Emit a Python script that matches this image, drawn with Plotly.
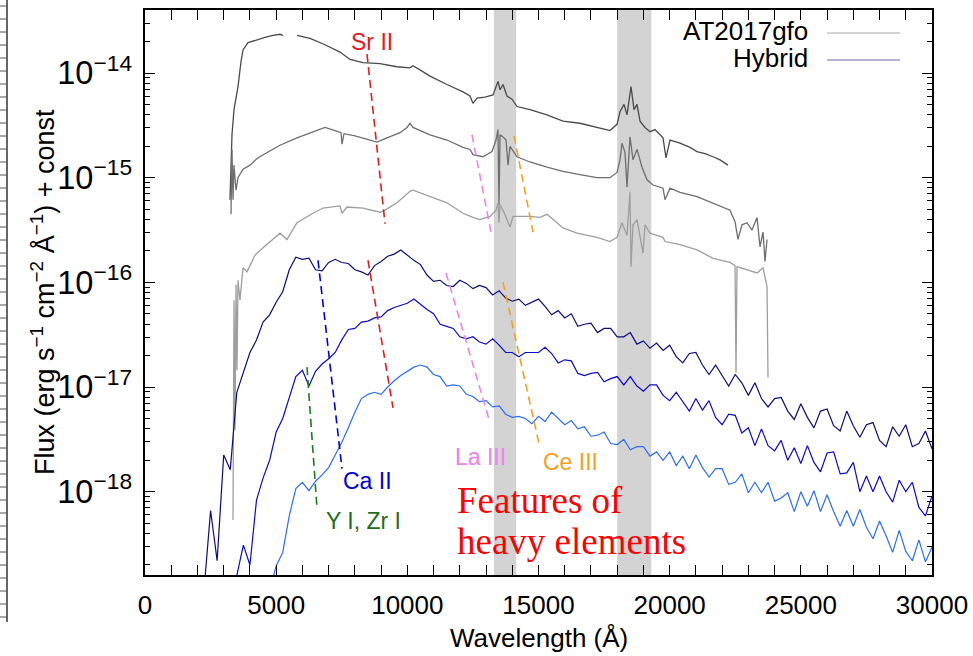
import numpy as np
import plotly.graph_objects as go

# ---------------- data ----------------
# AT2017gfo spectra (three epochs), log10 flux
at1_wave = [3240, 3316, 3393, 3545, 3660, 3736, 3926, 4269, 4574, 4879, 5146, 5261, None,
            5794, 6290, 6862, 7433, 7815, 8310, 8958, 9606, 10102, 10216, 10483, 10864, 11512,
            12122, 12389, 12503, 12656, 12961, 13266, 13380, 13456, 13533, 13647, 13799, 13990,
            14181, 14676, 15324, 15934, 16582, 17230, 17726, 17993, 18107, 18259, 18374, 18527,
            18641, 18755, 18869, 19060, 19250, 19441, 19746, 19860, 20013, 20394, 20775, 21042,
            21347, 21652, 21919, 22224]
at1_logflux = [-15.21, -14.59, -14.35, -14.13, -13.89, -13.78, -13.71, -13.68, -13.66, -13.64, -13.63, -13.64, None,
               -13.64, -13.67, -13.73, -13.80, -13.87, -13.90, -13.91, -13.94, -13.95, -13.93, -13.97, -14.03, -14.11,
               -14.18, -14.22, -14.29, -14.24, -14.23, -14.21, -14.12, -14.08, -14.16, -14.11, -14.22, -14.25,
               -14.32, -14.35, -14.40, -14.46, -14.48, -14.52, -14.55, -14.49, -14.37, -14.30, -14.40, -14.13,
               -14.35, -14.30, -14.46, -14.52, -14.56, -14.54, -14.62, -14.81, -14.64, -14.67, -14.71, -14.75,
               -14.77, -14.80, -14.83, -14.88]

at2_wave = [3278, 3316, 3355, 3393, 3469, 3545, 3736, 4003, 4308, 4651, 5146, 5794, 6404, 6862,
            7243, 7472, 7510, 7586, 8005, 8310, 8844, 9225, 9721, 9987, 10102, 10216, 10864, 11512,
            12122, 12389, 12503, 12885, 13228, 13380, 13456, 13494, 13533, 13647, 13761, 13838, 13914,
            14181, 14676, 15324, 15934, 16582, 17230, 17726, 17993, 18107, 18183, 18298, 18374, 18488,
            18603, 18755, 18946, 19136, 19365, 19746, 19822, 20013, 20394, 21042, 21652, 22300, 22491,
            22605, 22757, 22948, 23139, 23330, 23444, 23559, 23634, 23711]
at2_logflux = [-15.35, -14.73, -15.21, -14.88, -15.12, -15.00, -14.92, -14.88, -14.81, -14.76, -14.69, -14.62, -14.56, -14.52,
               -14.55, -14.57, -14.68, -14.58, -14.60, -14.62, -14.66, -14.62, -14.57, -14.52, -14.48, -14.52, -14.59, -14.64,
               -14.71, -14.73, -14.78, -14.80, -14.75, -14.64, -14.54, -15.26, -14.59, -14.61, -14.64, -14.88, -14.70,
               -14.80, -14.85, -14.90, -14.94, -14.97, -15.00, -15.00, -14.95, -14.83, -14.67, -14.76, -15.09, -14.61,
               -14.83, -14.73, -14.90, -15.02, -15.07, -15.10, -15.21, -15.10, -15.14, -15.18, -15.24, -15.31, -15.42,
               -15.59, -15.45, -15.43, -15.50, -15.38, -15.66, -15.52, -15.80, -15.59]

at3_wave = [3355, 3393, 3431, 3469, 3507, 3545, 3621, 3736, 3888, 4193, 4498, 5146, 5413, 5794, 6404,
            6785, 7433, 7510, 7700, 8310, 8958, 9149, 9606, 10102, 10216, 10864, 11512, 12122, 12503,
            12770, 13151, 13380, 13456, 13494, 13533, 13685, 13914, 14028, 14676, 15057, 15324, 15934,
            16468, 17230, 17726, 17993, 18183, 18374, 18488, 18527, 18603, 18755, 18984, 19060, 19250,
            19746, 19822, 20394, 21042, 21652, 22300, 22491, 22529, 22567, 22948, 23330, 23559, 23673,
            23711, 23749]
at3_logflux = [-18.27, -16.17, -17.41, -16.02, -16.84, -15.98, -16.17, -15.86, -15.90, -15.74, -15.67, -15.53, -15.59, -15.43, -15.34,
               -15.29, -15.27, -15.34, -15.28, -15.29, -15.33, -15.31, -15.24, -15.13, -15.12, -15.18, -15.24, -15.34, -15.38,
               -15.40, -15.37, -15.31, -15.24, -15.43, -15.26, -15.33, -15.47, -15.37, -15.37, -15.38, -15.35, -15.48,
               -15.53, -15.57, -15.61, -15.57, -15.43, -15.55, -15.14, -15.85, -15.45, -15.40, -15.72, -15.45, -15.53,
               -15.57, -15.61, -15.64, -15.69, -15.77, -15.81, -15.84, -16.86, -15.85, -15.88, -15.91, -15.86, -15.98,
               -16.04, -16.91]

# Hybrid model spectra, shared wavelength grid, log10 flux
hyb_wave = [2000, 2250, 2500, 2750, 3000, 3250, 3500, 3750, 4000, 4250, 4500, 4750,
            5000, 5250, 5500, 5750, 6000, 6250, 6500, 6750, 7000, 7250, 7500, 7750,
            8000, 8250, 8500, 8750, 9000, 9250, 9500, 9750, 10000, 10250, 10500, 10750,
            11000, 11250, 11500, 11750, 12000, 12250, 12500, 12750, 13000, 13250, 13500, 13750,
            14000, 14250, 14500, 14750, 15000, 15250, 15500, 15750, 16000, 16250, 16500, 16750,
            17000, 17250, 17500, 17750, 18000, 18250, 18500, 18750, 19000, 19250, 19500, 19750,
            20000, 20250, 20500, 20750, 21000, 21250, 21500, 21750, 22000, 22250, 22500, 22750,
            23000, 23250, 23500, 23750, 24000, 24250, 24500, 24750, 25000, 25250, 25500, 25750,
            26000, 26250, 26500, 26750, 27000, 27250, 27500, 27750, 28000, 28250, 28500, 28750,
            29000, 29250, 29500, 29750, 30000]
hyb1_logflux = [None, -18.94, -18.18, -18.66,
                -17.65, -17.79, -17.05, -16.86,
                -16.67, -16.55, -16.38, -16.31,
                -16.19, -16.09, -15.88, -15.76,
                -15.78, -15.77, -15.88, -15.89,
                -15.81, -15.78, -15.81, -15.82,
                -15.88, -15.90, -15.93, -15.84,
                -15.80, -15.75, -15.73, -15.69,
                -15.74, -15.79, -15.83, -15.93,
                -15.99, -15.98, -16.03, -16.04,
                -15.98, -16.01, -16.06, -16.03,
                -16.05, -16.12, -16.08, -16.15,
                -16.18, -16.16, -16.22, -16.19,
                -16.16, -16.23, -16.31, -16.27,
                -16.34, -16.30, -16.42, -16.40,
                -16.39, -16.48, -16.44, -16.44,
                -16.52, -16.52, -16.48, -16.59,
                -16.56, -16.63, -16.58, -16.65,
                -16.60, -16.71, -16.77, -16.68,
                -16.67, -16.79, -16.88, -16.79,
                -16.89, -16.99, -16.88, -16.96,
                -17.08, -16.96, -17.11, -17.19,
                -17.11, -17.10, -17.23, -17.31,
                -17.16, -17.29, -17.39, -17.23,
                -17.21, -17.37, -17.42, -17.23,
                -17.37, -17.48, -17.36, -17.34,
                -17.51, -17.57, -17.38, -17.47,
                -17.36, -17.57, -17.54, -17.42,
                -17.59]
hyb2_logflux = [None, None, None, None,
                None, -19.04, -18.80, -18.51,
                -18.70, -18.08, -17.87, -17.70,
                -17.43, -17.30, -17.11, -16.90,
                -16.84, -16.99, -16.85, -16.78,
                -16.73, -16.67, -16.55, -16.45,
                -16.44, -16.38, -16.37, -16.34,
                -16.33, -16.27, -16.24, -16.22,
                -16.20, -16.16, -16.21, -16.26,
                -16.30, -16.40, -16.42, -16.44,
                -16.52, -16.54, -16.52, -16.57,
                -16.59, -16.54, -16.60, -16.67,
                -16.67, -16.71, -16.67, -16.67,
                -16.67, -16.62, -16.68, -16.77,
                -16.74, -16.75, -16.87, -16.89,
                -16.87, -16.86, -16.95, -16.92,
                -16.90, -16.98, -16.90, -16.99,
                -17.04, -16.98, -16.98, -17.08,
                -17.13, -17.05, -17.14, -17.23,
                -17.11, -17.22, -17.13, -17.29,
                -17.36, -17.26, -17.27, -17.44,
                -17.39, -17.56, -17.40, -17.56,
                -17.61, -17.51, -17.70, -17.58,
                -17.73, -17.56, -17.72, -17.81,
                -17.63, -17.62, -17.83, -17.82,
                -17.72, -18.00, -17.85, -18.00,
                -17.85, -18.00, -18.10, -17.89,
                -18.00, -17.91, -18.15, -18.23,
                -18.04]
hyb3_logflux = [None, None, None, None,
                None, None, None, None,
                None, -19.04, -18.85, -18.94,
                -18.71, -18.58, -18.23, -17.97,
                -17.91, -17.99, -17.90, -17.84,
                -17.77, -17.65, -17.53, -17.39,
                -17.24, -17.11, -17.07, -17.05,
                -17.07, -17.00, -16.94, -16.89,
                -16.85, -16.81, -16.79, -16.81,
                -16.88, -16.90, -16.99, -16.98,
                -16.99, -17.07, -17.09, -17.14,
                -17.13, -17.19, -17.18, -17.26,
                -17.29, -17.28, -17.30, -17.35,
                -17.28, -17.33, -17.24, -17.30,
                -17.36, -17.32, -17.40, -17.38,
                -17.47, -17.46, -17.43, -17.54,
                -17.55, -17.50, -17.60, -17.57,
                -17.57, -17.66, -17.62, -17.70,
                -17.62, -17.75, -17.66, -17.78,
                -17.65, -17.77, -17.86, -17.78,
                -17.78, -17.93, -17.91, -17.83,
                -18.01, -17.91, -18.01, -17.91,
                -18.09, -18.06, -18.01, -18.19,
                -18.00, -18.14, -17.99, -18.19,
                -18.03, -18.19, -18.33, -18.18,
                -18.33, -18.17, -18.34, -18.45,
                -18.28, -18.42, -18.58, -18.37,
                -18.57, -18.66, -18.46, -18.67,
                -18.53]

# telluric bands (Angstrom)
band_start = [13300, 18000]
band_end = [14150, 19300]

# line-identification guides (Angstrom, log10 flux)
sr2_wave = [8463, 9149, None, 8501, 9454]
sr2_logflux = [-13.82, -15.44, None, -15.79, -17.20]
ca2_wave = [6595, 7510]
ca2_logflux = [-15.79, -17.78]
yzr_wave = [6175, 6557]
yzr_logflux = [-16.81, -18.16]
la3_wave = [12465, 13190, None, 11474, 13151]
la3_logflux = [-14.59, -15.52, None, -15.91, -17.34]
ce3_wave = [14066, 14791, None, 13647, 15019]
ce3_logflux = [-14.60, -15.52, None, -16.00, -17.54]

# axes
x_range = [0, 30000]
y_range = [1.6e-19, 4e-14]
minor_mantissas = [2, 3, 4, 5, 6, 7, 8, 9]
minor_decades = [-19, -18, -17, -16, -15, -14]

# ---------------- figure ----------------
def flux(v):
    return np.power(10.0, np.array(v, dtype=float))

FONT = "Liberation Sans, Arial, sans-serif"
SERIF = "Liberation Serif, Times New Roman, serif"
fig = go.Figure()

spectra = [
    (at1_wave, at1_logflux, "#4a4a4a", 1.3),
    (at2_wave, at2_logflux, "#6e6e6e", 1.3),
    (at3_wave, at3_logflux, "#9e9e9e", 1.3),
    (hyb_wave, hyb1_logflux, "#0c0c7c", 1.2),
    (hyb_wave, hyb2_logflux, "#0a0ad0", 1.2),
    (hyb_wave, hyb3_logflux, "#2a6ef5", 1.2),
]
for w, f, c, lw in spectra:
    fig.add_trace(go.Scatter(x=w, y=flux(f), mode="lines", line=dict(color=c, width=lw),
                             connectgaps=False, showlegend=False, hoverinfo="skip"))

guides = [
    (sr2_wave, sr2_logflux, "#e41a1c"),
    (ca2_wave, ca2_logflux, "#0000e0"),
    (yzr_wave, yzr_logflux, "#1f7a1f"),
    (la3_wave, la3_logflux, "#ee82ee"),
    (ce3_wave, ce3_logflux, "#f5a020"),
]
for w, f, c in guides:
    fig.add_trace(go.Scatter(x=w, y=flux(f), mode="lines",
                             line=dict(color=c, width=1.6, dash="8px,5px"),
                             connectgaps=False, showlegend=False, hoverinfo="skip"))

# empty trace so that the minor-tick axis (y2) is instantiated
fig.add_trace(go.Scatter(x=[], y=[], yaxis="y2", mode="lines", showlegend=False, hoverinfo="skip"))

for s, e in zip(band_start, band_end):
    fig.add_shape(type="rect", xref="x", yref="paper", x0=s, x1=e, y0=0, y1=1,
                  fillcolor="#d3d3d3", line=dict(width=0), layer="below")

# plot area in page pixels: left 145, right 932, top 10, bottom 575
W, H = 973, 656
L, R, T, B = 145, 932, 10, 575
def px(x):
    return (x - L) / (R - L)
def py(y):
    return (B - y) / (B - T)

ann = []
def add_text(text, x, y, size, color, xanchor="center", family=FONT, angle=0):
    ann.append(dict(text=text, x=px(x), y=py(y), xref="paper", yref="paper", showarrow=False,
                    xanchor=xanchor, yanchor="middle", textangle=angle,
                    font=dict(size=size, color=color, family=family)))

add_text("Sr II", 372, 42, 23, "#e41a1c")
add_text("Ca II", 367, 481, 23, "#0000e0")
add_text("Y I, Zr I", 363, 521, 23, "#1f6e1f")
add_text("La III", 480, 457, 23, "#ee82ee")
add_text("Ce III", 570, 462, 23, "#f5a020")
add_text("Features of", 455, 500, 37, "#ff0000", xanchor="left", family=SERIF)
add_text("heavy elements", 455, 541, 37, "#ff0000", xanchor="left", family=SERIF)
# legend (gnuplot style: text left of sample)
add_text("AT2017gfo", 810, 31, 26, "black", xanchor="right")
add_text("Hybrid", 810, 58, 26, "black", xanchor="right")
fig.add_shape(type="line", xref="paper", yref="paper", x0=px(827), x1=px(900), y0=py(33), y1=py(33),
              line=dict(color="#a8a8a8", width=1.2))
fig.add_shape(type="line", xref="paper", yref="paper", x0=px(827), x1=px(900), y0=py(60), y1=py(60),
              line=dict(color="#6a6aa8", width=1.2))
# axis titles
add_text("Wavelength (Å)", 539, 638, 26, "black")
add_text("Flux (erg s<sup>−1</sup> cm<sup>−2</sup> Å<sup>−1</sup>) + const", 43, 292, 27, "black", angle=-90)

# cropped neighbour panel edge at the far left of the picture
fig.add_shape(type="line", xref="paper", yref="paper", x0=px(7), x1=px(7), y0=py(0), y1=py(622),
              line=dict(color="#333333", width=1.5))
for yy in range(6, 622, 13):
    fig.add_shape(type="line", xref="paper", yref="paper", x0=px(0), x1=px(7), y0=py(yy), y1=py(yy),
                  line=dict(color="#555555", width=1))

minor_vals = [m * 10.0 ** d for d in minor_decades for m in minor_mantissas]
y_log_range = [np.log10(y_range[0]), np.log10(y_range[1])]

fig.update_layout(
    width=W, height=H,
    margin=dict(l=L, r=W - R, t=T, b=H - B, autoexpand=False),
    paper_bgcolor="white", plot_bgcolor="white",
    font=dict(family=FONT, color="black"),
    annotations=ann, showlegend=False,
    xaxis=dict(range=x_range, tick0=0, dtick=5000, tickformat="d", ticks="inside", ticklen=10, tickwidth=1.2,
               tickcolor="black", minor=dict(dtick=1000, ticks="inside", ticklen=5, tickcolor="black"),
               showline=True, linecolor="black", linewidth=1.5, mirror="allticks",
               showgrid=False, zeroline=False, tickfont=dict(size=26), ticklabelstandoff=6),
    yaxis=dict(type="log", range=y_log_range, tick0=0, dtick=1, exponentformat="power", showexponent="all",
               ticks="inside", ticklen=10, tickwidth=1.2, tickcolor="black",
               showline=True, linecolor="black", linewidth=1.5, mirror="allticks",
               showgrid=False, zeroline=False, tickfont=dict(size=26), ticklabelstandoff=6),
    # second, label-less log axis carrying the minor ticks
    yaxis2=dict(type="log", range=y_log_range, overlaying="y", anchor="x", side="left",
                tickmode="array", tickvals=minor_vals, showticklabels=False,
                ticks="inside", ticklen=5, tickwidth=1, tickcolor="black",
                showline=True, linecolor="black", linewidth=1.5, mirror="allticks",
                showgrid=False, zeroline=False),
)

fig.write_html("out.html", config={"displayModeBar": False},
               post_script="document.body.style.margin='0';document.body.style.overflow='hidden';")
